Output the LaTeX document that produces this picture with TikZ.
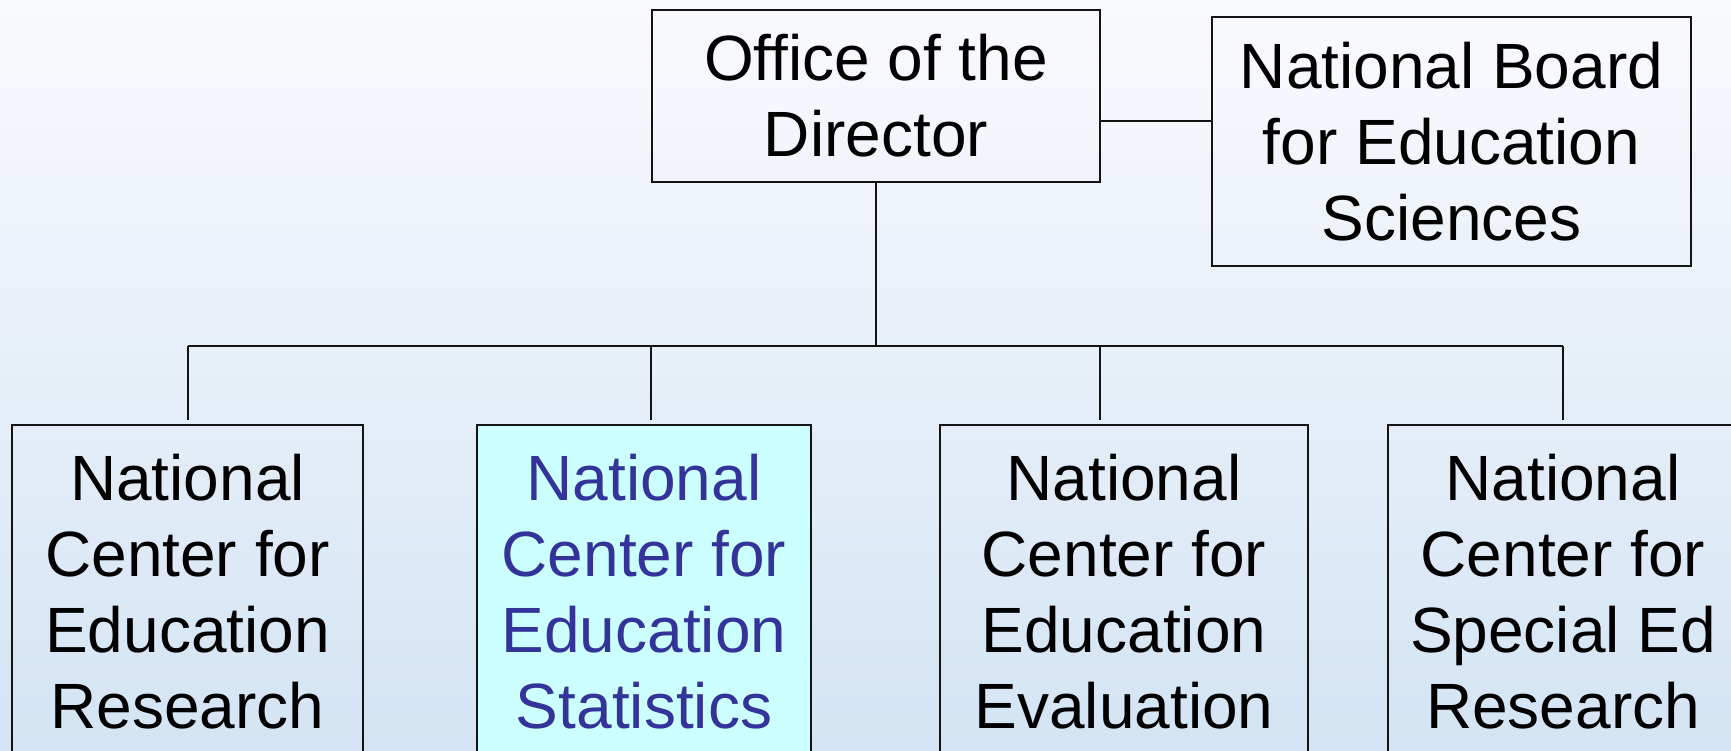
\documentclass[tikz,border=0pt]{standalone}
\usepackage{fontspec}
\setmainfont{Liberation Sans}
\definecolor{bgtop}{RGB}{249,250,253}
\definecolor{bgbot}{RGB}{212,228,244}
\definecolor{ncesfill}{RGB}{204,255,255}
\definecolor{ncestext}{RGB}{51,51,153}
\definecolor{edge}{RGB}{20,20,20}
\begin{document}
\begin{tikzpicture}[x=1pt,y=-1pt,
  box/.style={draw=edge, line width=2.5pt, inner sep=0pt, align=center,
    font=\fontsize{64}{76}\selectfont, anchor=center},
  link/.style={draw=edge, line width=2.5pt}]
\useasboundingbox (0,0) rectangle (1731,751);
\shade[top color=bgtop, bottom color=bgbot] (0,0) rectangle (1731,751);
\clip (0,0) rectangle (1731,751);

\node[box, minimum width=448, minimum height=172] (office) at (876,96) {Office of the\\Director};
\node[box, minimum width=479, minimum height=249] (board) at (1451.5,141.5) {National Board\\for Education\\Sciences};

\node[box, minimum width=351, minimum height=334] (ncer) at (187.5,592) {National\\Center for\\Education\\Research};
\node[box, minimum width=334, minimum height=334, fill=ncesfill, text=ncestext] (nces) at (644,592) {National\\Center for\\Education\\Statistics};
\node[box, minimum width=368, minimum height=334] (ncee) at (1124,592) {National\\Center for\\Education\\Evaluation};
\node[box, minimum width=350, minimum height=334] (ncser) at (1563,592) {National\\Center for\\Special Ed\\Research};

\coordinate (bar) at (876,346);
\coordinate (d1) at (188,420);
\coordinate (d2) at (651,420);
\coordinate (d3) at (1100,420);
\coordinate (d4) at (1563,420);

\draw[link] (office.east |- 0,121) -- (board.west |- 0,121);
\draw[link] (office.south) -- (bar);
\draw[link] (d1 |- bar) -- (d4 |- bar);
\draw[link] (d1 |- bar) -- (d1);
\draw[link] (d2 |- bar) -- (d2);
\draw[link] (d3 |- bar) -- (d3);
\draw[link] (d4 |- bar) -- (d4);
\end{tikzpicture}
\end{document}
